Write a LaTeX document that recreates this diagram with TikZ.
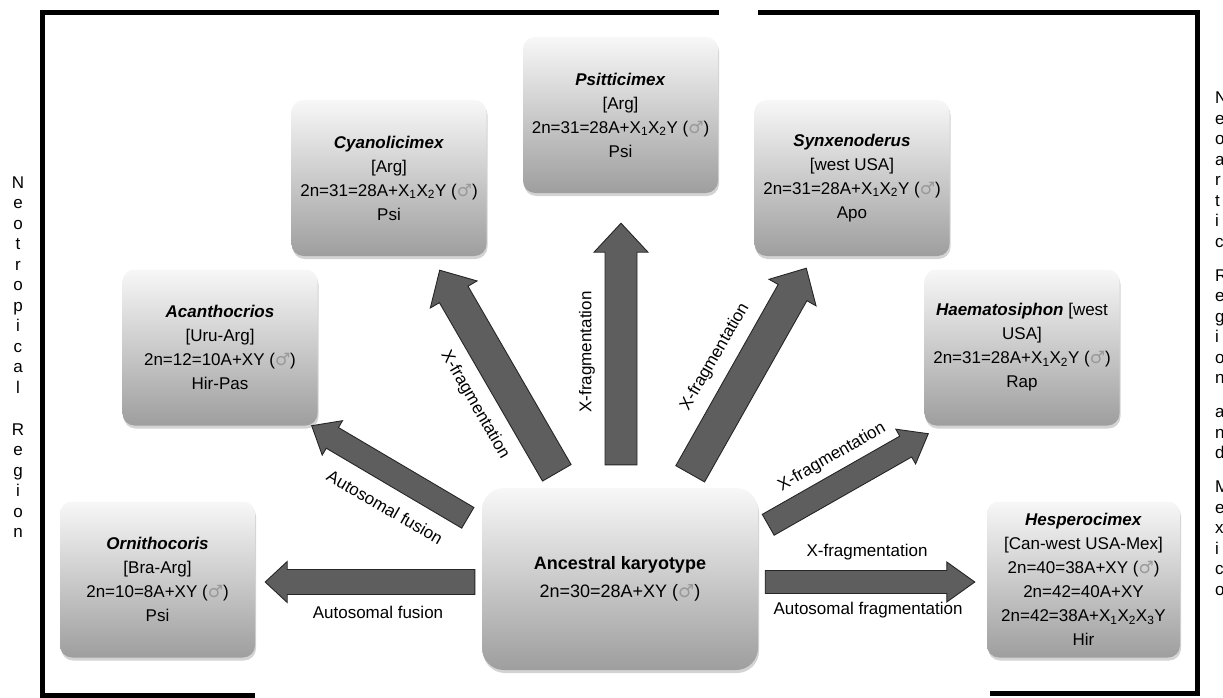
\documentclass[tikz,border=0pt]{standalone}
\usepackage{fontspec}
\setmainfont{Liberation Sans}
\newfontfamily\symfont{DejaVu Sans}
\usetikzlibrary{calc,shadows}
\newcommand{\msign}{{\symfont\textcolor{black!40}{♂}}}

\begin{document}
\begin{tikzpicture}[x=1pt,y=-1pt,
  every node/.style={font=\fontsize{17}{24}\selectfont},
  taxon/.style={rounded corners=12pt, minimum width=195pt, minimum height=156pt,
    align=center, inner sep=2pt, top color=black!3, bottom color=black!38,
    drop shadow={opacity=0.35, shadow xshift=1pt, shadow yshift=-3pt}},
  lab/.style={font=\fontsize{17}{20}\selectfont, inner sep=0pt},
  sidetext/.style={font=\fontsize{17}{20.5}\selectfont, inner sep=0pt},
  frame/.style={line width=5pt},
  fat/.style args={#1/#2/#3}{fill=black!63, draw=black!85, line width=0.9pt,
    to path={($(\tikztotarget)!#3!(\tikztostart)$) coordinate (hb)
      ($(\tikztostart)!#1!90:(\tikztotarget)$) -- ($(hb)!#1!90:(\tikztotarget)$)
      -- ($(hb)!#2!90:(\tikztotarget)$) -- (\tikztotarget)
      -- ($(hb)!#2!-90:(\tikztotarget)$) -- ($(hb)!#1!-90:(\tikztotarget)$)
      -- ($(\tikztostart)!#1!-90:(\tikztotarget)$) -- cycle}}
  ]
  \useasboundingbox (0,0) rectangle (1223,698);
  \clip (0,0) rectangle (1223,698);

  % region frame
  \draw[frame] (719,13) -- (42,13) -- (42,695) -- (255,695);
  \draw[frame] (758,13) -- (1197,13) -- (1197,693) -- (990,693);

  \node[sidetext, align=center] (neo) at (18,357)
    {N\\e\\o\\t\\r\\o\\p\\i\\c\\a\\l\\[21.5pt]R\\e\\g\\i\\o\\n};
  \node[sidetext, align=left, anchor=north west] (nea) at (1215,92)
    {N\\e\\o\\a\\r\\t\\i\\c\\[13.5pt]R\\e\\g\\i\\o\\n\\[13.5pt]a\\n\\d\\[13.5pt]M\\e\\x\\i\\c\\o};

  % genera
  \node[taxon] (orn) at (157.5,579.5)
    {\textbf{\textit{Ornithocoris}}\\{[}Bra-Arg]\\2n=10=8A+XY (\msign)\\Psi};
  \node[taxon] (acan) at (220,347.5)
    {\textbf{\textit{Acanthocrios}}\\{[}Uru-Arg]\\2n=12=10A+XY (\msign)\\Hir-Pas};
  \node[taxon] (cyan) at (389,178)
    {\textbf{\textit{Cyanolicimex}}\\{[}Arg]\\2n=31=28A+X\textsubscript{1}X\textsubscript{2}Y (\msign)\\Psi};
  \node[taxon] (psit) at (620.5,115)
    {\textbf{\textit{Psitticimex}}\\{[}Arg]\\2n=31=28A+X\textsubscript{1}X\textsubscript{2}Y (\msign)\\Psi};
  \node[taxon] (synx) at (852,178)
    {\textbf{\textit{Synxenoderus}}\\{[}west USA]\\2n=31=28A+X\textsubscript{1}X\textsubscript{2}Y (\msign)\\Apo};
  \node[taxon] (haem) at (1022,347.5)
    {\textbf{\textit{Haematosiphon}} [west\\USA]\\2n=31=28A+X\textsubscript{1}X\textsubscript{2}Y (\msign)\\Rap};
  \node[taxon, minimum width=193pt] (hesp) at (1083.5,579.5)
    {\textbf{\textit{Hesperocimex}}\\{[}Can-west USA-Mex]\\2n=40=38A+XY (\msign)\\2n=42=40A+XY\\
     2n=42=38A+X\textsubscript{1}X\textsubscript{2}X\textsubscript{3}Y\\Hir};
  \node[taxon, minimum width=276pt, minimum height=182pt, rounded corners=22pt,
    font=\fontsize{18}{28}\selectfont] (anc) at (620,579)
    {\textbf{Ancestral karyotype}\\2n=30=28A+XY (\msign)};

  % arrow ends
  \coordinate (a1s) at ($(anc.west)+(-7,3)$);
  \coordinate (a1e) at ($(orn.east)+(10,2.5)$);
  \coordinate (a2s) at ($(anc.north west)+(-14,30)$);
  \coordinate (a2e) at ($(acan.south east)+(-6,0)$);
  \coordinate (a3s) at ($(anc.north west)+(75,-15)$);
  \coordinate (a3e) at ($(cyan.south east)+(-47,14)$);
  \coordinate (a4s) at ($(anc.north)+(1,-23)$);
  \coordinate (a4e) at ($(psit.south)+(0.5,30)$);
  \coordinate (a5s) at ($(anc.north east)+(-68,-14)$);
  \coordinate (a5e) at ($(synx.south west)+(52,12)$);
  \coordinate (a6s) at ($(anc.north east)+(10,37)$);
  \coordinate (a6e) at ($(haem.south west)+(4,8)$);
  \coordinate (a7s) at ($(anc.east)+(7,3)$);
  \coordinate (a7e) at ($(hesp.west)+(-12,2.5)$);

  \draw[fat=12.5pt/20.5pt/22pt] (a1s) to (a1e);
  \draw[fat=12pt/20pt/24pt] (a2s) to (a2e);
  \draw[fat=16.5pt/27pt/28pt] (a3s) to (a3e);
  \draw[fat=16pt/27pt/29pt] (a4s) to (a4e);
  \draw[fat=16.5pt/27pt/28pt] (a5s) to (a5e);
  \draw[fat=12pt/20pt/26pt] (a6s) to (a6e);
  \draw[fat=11.5pt/20pt/28pt] (a7s) to (a7e);

  \node[lab] (l1) at (378,612) {Autosomal fusion};
  \node[lab, rotate=-30] (l2) at (385,507) {Autosomal fusion};
  \node[lab, rotate=-60] (l3) at (475,405) {X-fragmentation};
  \node[lab, rotate=90] (l4) at (587,352) {X-fragmentation};
  \node[lab, rotate=60] (l5) at (715,357) {X-fragmentation};
  \node[lab, rotate=30] (l6) at (832,457) {X-fragmentation};
  \node[lab] (l7) at (867,552) {X-fragmentation};
  \node[lab] (l8) at (868,610) {Autosomal fragmentation};
\end{tikzpicture}
\end{document}
